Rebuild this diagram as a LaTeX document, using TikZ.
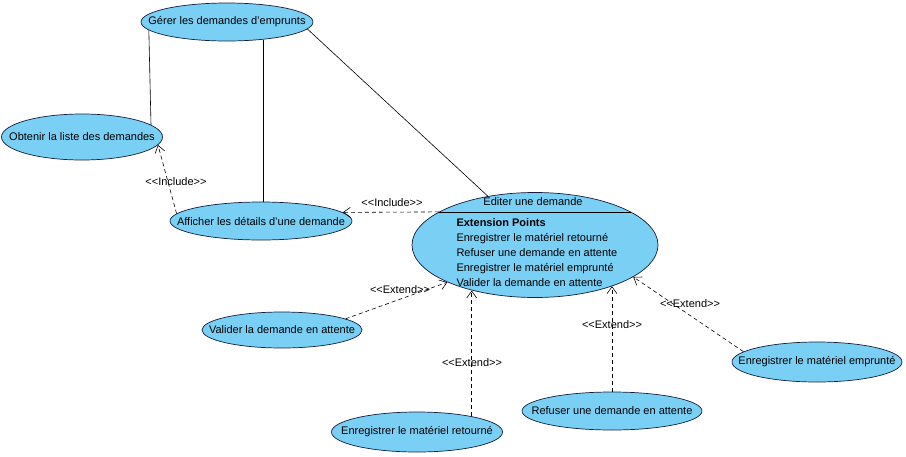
\documentclass[tikz,border=0pt]{standalone}
\usepackage{fontspec}
\setmainfont{Liberation Sans}
\usetikzlibrary{arrows.meta,shapes.geometric,positioning}
\definecolor{ucfill}{RGB}{122,207,245}
\definecolor{ucline}{RGB}{20,30,60}
\newcommand{\stereo}[1]{<\kern0pt<#1>\kern0pt>}

\begin{document}
\begin{tikzpicture}
 	[x=1pt,y=-1pt,font=\fontsize{11}{13}\selectfont,
 	uc/.style={ellipse,draw=ucline,fill=ucfill,line width=0.7pt,
 		inner sep=0pt},
 	assoc/.style={draw=black,line width=0.6pt},
 	dep/.style={draw=black,line width=0.6pt,dash pattern=on 4pt off 3pt,
 		-{Straight Barb[length=7pt,width=10pt]}},
 	lbl/.style={font=\fontsize{11}{13}\selectfont,inner sep=1pt}]
 	\useasboundingbox (0,0) rectangle (906,456);
 	%  cas d'utilisation
 	\node[uc,minimum width=172pt,minimum height=38pt,label=center:{Gérer les demandes d'emprunts}] (ger) at (227,22) {};
 	\node[uc,minimum width=161pt,minimum height=46pt,label=center:{Obtenir la liste des demandes}] (obt) at (82,137) {};
 	\node[uc,minimum width=182pt,minimum height=38pt,label=center:{Afficher les détails d'une demande}] (aff) at (261,221) {};
 	\node[uc,minimum width=246pt,minimum height=105pt] (edi) at (535,245) {};
 	\node[uc,minimum width=160pt,minimum height=36pt,label=center:{Valider la demande en attente}] (val) at (282,330) {};
 	\node[uc,minimum width=171pt,minimum height=40pt,label=center:{Enregistrer le matériel retourné}] (ret) at (417,432) {};
 	\node[uc,minimum width=180pt,minimum height=38pt,label=center:{Refuser une demande en attente}] (ref) at (612,411) {};
 	\node[uc,minimum width=170pt,minimum height=40pt,label=center:{Enregistrer le matériel emprunté}] (emp) at (817,362) {};
 	%  points d'extension
 	\draw[assoc] (edi.161) -- (edi.19);
 	\node (titre) at (533,202) {Editer une demande};
 	\node[anchor=west,align=left,font=\fontsize{11}{15}\selectfont] (points) at (453,253)
 	{\textbf{Extension Points}\\Enregistrer le matériel retourné\\Refuser une demande en attente\\Enregistrer le matériel emprunté\\Valider la demande en attente};
 	%  associations
 	\draw[assoc] (ger.186) -- (obt.10);
 	\draw[assoc] (ger.334) -- (ger.334 |- aff.north);
 	\draw[assoc] (ger.355) -- (edi.134);
 	%  include / extend
 	\draw[dep] (edi.161) -- (aff.6);
 	\draw[dep] (aff.175) -- (obt.354);
 	\draw[dep] (val.10) -- (edi.203);
 	\draw[dep] (ret.16) -- (ret.16 |- edi.216);
 	\draw[dep] (ref.north) -- (ref.north |- edi.332);
 	\draw[dep] (emp.172) -- (edi.342);
 	\node[lbl] (inc1) at (176,182) {\stereo{Include}};
 	\node[lbl] (inc2) at (392,203) {\stereo{Include}};
 	\node[lbl] (ext1) at (400,290) {\stereo{Extend}};
 	\node[lbl] (ext2) at (472,363) {\stereo{Extend}};
 	\node[lbl] (ext3) at (612,325) {\stereo{Extend}};
 	\node[lbl] (ext4) at (690,304) {\stereo{Extend}};
\end{tikzpicture}
\end{document}
